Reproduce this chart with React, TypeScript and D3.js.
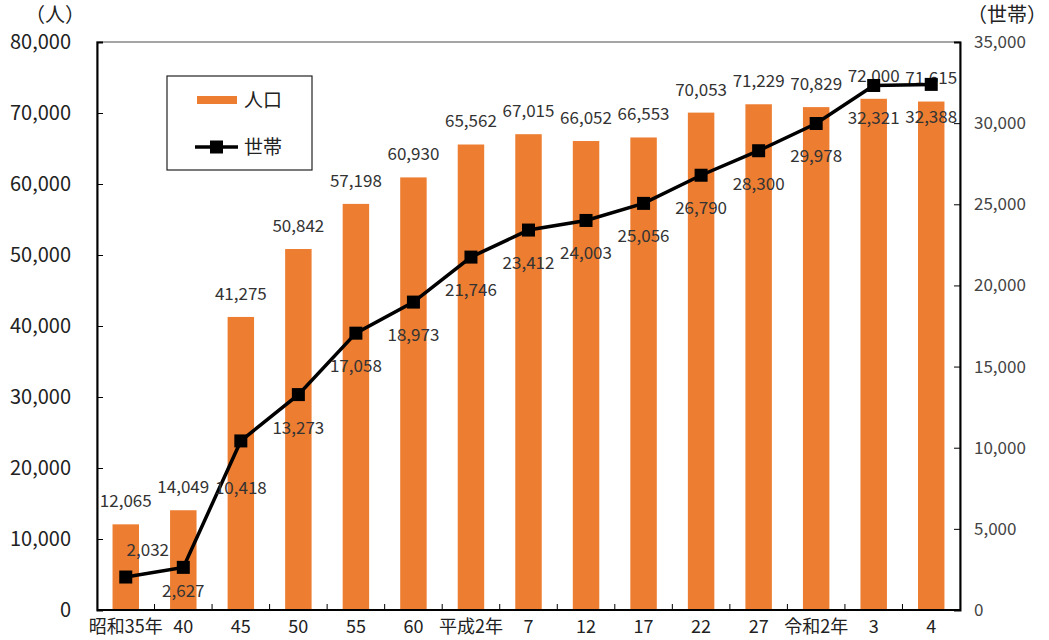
import React, { useRef, useEffect } from 'react';
import * as d3 from 'd3';

// categories (年)
const years = ['昭和35年', '40', '45', '50', '55', '60', '平成2年', '7', '12', '17', '22', '27', '令和2年', '3', '4'];
// 人口
const population = [12065, 14049, 41275, 50842, 57198, 60930, 65562, 67015, 66052, 66553, 70053, 71229, 70829, 72000, 71615];
// 世帯
const households = [2032, 2627, 10418, 13273, 17058, 18973, 21746, 23412, 24003, 25056, 26790, 28300, 29978, 32321, 32388];
const leftTicks = [0, 10000, 20000, 30000, 40000, 50000, 60000, 70000, 80000];
const rightTicks = [0, 5000, 10000, 15000, 20000, 25000, 30000, 35000];

const ORANGE = '#ED7D31';
const FONT = '"Noto Sans CJK JP", "Noto Sans", sans-serif';

export default function App() {
  const ref = useRef<SVGSVGElement>(null);

  useEffect(() => {
    const W = 1049, H = 640;
    const margin = { top: 42, right: 89, bottom: 30, left: 97 };
    const svg = d3.select(ref.current);
    svg.selectAll('*').remove();
    svg.attr('width', W).attr('height', H);

    const x = d3.scaleBand<string>().domain(years).range([margin.left, W - margin.right]).paddingInner(0).paddingOuter(0);
    const yL = d3.scaleLinear().domain([0, 80000]).range([H - margin.bottom, margin.top]);
    const yR = d3.scaleLinear().domain([0, 35000]).range([H - margin.bottom, margin.top]);
    const fmt = d3.format(',');
    const barW = x.bandwidth() * 0.46;
    const cx = (i: number) => (x(years[i]) as number) + x.bandwidth() / 2;

    // plot frame (top / right)
    svg.append('rect')
      .attr('x', margin.left).attr('y', margin.top)
      .attr('width', W - margin.right - margin.left).attr('height', H - margin.bottom - margin.top)
      .attr('fill', 'none').attr('stroke', '#888').attr('stroke-width', 1.5);

    // bars
    svg.append('g').selectAll('rect').data(population).enter().append('rect')
      .attr('x', (d, i) => cx(i) - barW / 2)
      .attr('y', d => yL(d))
      .attr('width', barW)
      .attr('height', d => yL(0) - yL(d))
      .attr('fill', ORANGE);

    // axes
    const left = svg.append('g').attr('transform', `translate(${margin.left},0)`)
      .call(d3.axisRight(yL).tickValues(leftTicks).tickSize(6).tickFormat(() => ''));
    left.select('.domain').attr('stroke', '#000').attr('stroke-width', 2);
    left.selectAll('line').attr('stroke', '#000');

    const right = svg.append('g').attr('transform', `translate(${W - margin.right},0)`)
      .call(d3.axisLeft(yR).tickValues(rightTicks).tickSize(6).tickFormat(() => ''));
    right.select('.domain').attr('stroke', '#000').attr('stroke-width', 2);
    right.selectAll('line').attr('stroke', '#000');

    const bottom = svg.append('g').attr('transform', `translate(0,${H - margin.bottom})`);
    bottom.append('line').attr('x1', margin.left).attr('x2', W - margin.right)
      .attr('stroke', '#000').attr('stroke-width', 2);
    bottom.selectAll('line.tk').data(years.slice(1)).enter().append('line')
      .attr('class', 'tk')
      .attr('x1', d => x(d) as number).attr('x2', d => x(d) as number)
      .attr('y1', 0).attr('y2', -6).attr('stroke', '#000');

    // tick labels
    svg.append('g').selectAll('text').data(leftTicks).enter().append('text')
      .attr('x', 71).attr('y', d => yL(d)).attr('dy', '0.35em')
      .attr('text-anchor', 'end').attr('font-size', 20).attr('font-family', FONT).attr('fill', '#222')
      .text(d => fmt(d));
    svg.append('g').selectAll('text').data(rightTicks).enter().append('text')
      .attr('x', 974).attr('y', d => yR(d)).attr('dy', '0.35em')
      .attr('text-anchor', 'start').attr('font-size', 17).attr('font-family', FONT).attr('fill', '#444')
      .text(d => fmt(d));
    svg.append('g').selectAll('text').data(years).enter().append('text')
      .attr('x', (d, i) => cx(i)).attr('y', 627).attr('dy', '0.35em')
      .attr('text-anchor', 'middle').attr('font-size', 18).attr('font-family', FONT).attr('fill', '#222')
      .text(d => d);

    // axis titles
    svg.append('text').attr('x', 55).attr('y', 15).attr('dy', '0.35em').attr('text-anchor', 'middle')
      .attr('font-size', 20).attr('font-family', FONT).attr('fill', '#222').text('（人）');
    svg.append('text').attr('x', 1047).attr('y', 15).attr('dy', '0.35em').attr('text-anchor', 'end')
      .attr('font-size', 20).attr('font-family', FONT).attr('fill', '#222').text('（世帯）');

    // population labels
    svg.append('g').selectAll('text').data(population).enter().append('text')
      .attr('x', (d, i) => cx(i)).attr('y', d => yL(d) - 23).attr('dy', '0.35em')
      .attr('text-anchor', 'middle').attr('font-size', 17).attr('font-family', FONT).attr('fill', '#333')
      .text(d => fmt(d));

    // household line
    const line = d3.line<number>().x((d, i) => cx(i)).y(d => yR(d));
    svg.append('path').datum(households).attr('d', line)
      .attr('fill', 'none').attr('stroke', '#000').attr('stroke-width', 3.5);
    svg.append('g').selectAll('rect').data(households).enter().append('rect')
      .attr('x', (d, i) => cx(i) - 6.5).attr('y', d => yR(d) - 6.5)
      .attr('width', 13).attr('height', 13).attr('fill', '#000');

    // household labels: below the point; first one above-right, second closer, third lower
    const dyOf = (i: number) => (i === 0 ? -27 : i === 1 ? 24 : i === 2 ? 47 : 33);
    svg.append('g').selectAll('text').data(households).enter().append('text')
      .attr('x', (d, i) => cx(i) + (i === 0 ? 22 : 0))
      .attr('y', (d, i) => yR(d) + dyOf(i))
      .attr('dy', '0.35em')
      .attr('text-anchor', 'middle').attr('font-size', 17).attr('font-family', FONT).attr('fill', '#333')
      .text(d => fmt(d));

    // legend
    const lg = svg.append('g');
    lg.append('rect').attr('x', 167).attr('y', 76).attr('width', 145).attr('height', 94)
      .attr('fill', '#fff').attr('stroke', '#222').attr('stroke-width', 1.2);
    lg.append('rect').attr('x', 197).attr('y', 96).attr('width', 40).attr('height', 8).attr('fill', ORANGE);
    lg.append('text').attr('x', 244).attr('y', 100).attr('dy', '0.35em').attr('font-size', 19)
      .attr('font-family', FONT).attr('fill', '#222').text('人口');
    lg.append('line').attr('x1', 195).attr('x2', 238).attr('y1', 147).attr('y2', 147)
      .attr('stroke', '#000').attr('stroke-width', 3.5);
    lg.append('rect').attr('x', 210).attr('y', 140.5).attr('width', 13).attr('height', 13).attr('fill', '#000');
    lg.append('text').attr('x', 244).attr('y', 147).attr('dy', '0.35em').attr('font-size', 19)
      .attr('font-family', FONT).attr('fill', '#222').text('世帯');
  }, []);

  return (
    <div style={{ position: 'absolute', left: 0, top: 0, background: '#fff' }}>
      <svg ref={ref} style={{ display: 'block' }} />
    </div>
  );
}
